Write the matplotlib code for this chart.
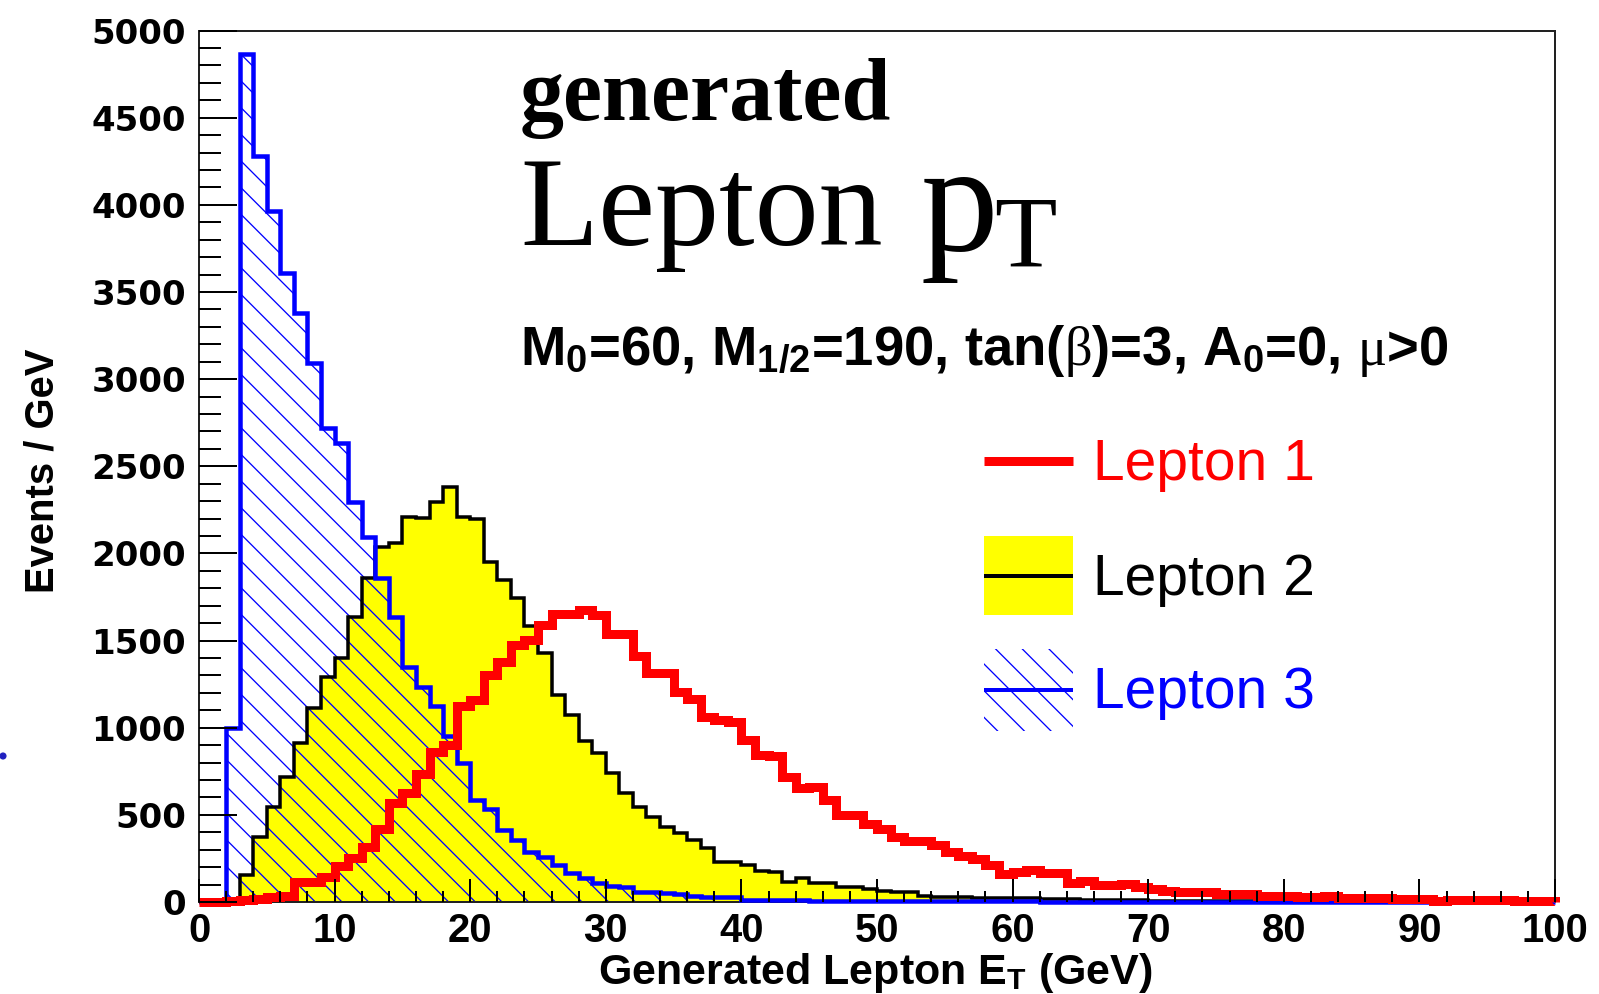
import numpy as np
import matplotlib
matplotlib.use("Agg")
import matplotlib.pyplot as plt
from matplotlib.patches import Rectangle, Ellipse
from matplotlib.lines import Line2D

# 1 GeV bins from 0 to 100 GeV
edges = np.arange(0, 101, 1)

# Events / GeV for the three leptons (ordered by E_T)
lepton1 = [0, 0, 3, 10, 18, 30, 35, 115, 112, 145,
           205, 250, 318, 417, 570, 625, 733, 860, 900, 1126,
           1160, 1302, 1378, 1475, 1505, 1590, 1650, 1652, 1675, 1645,
           1540, 1540, 1413, 1315, 1315, 1205, 1165, 1063, 1045, 1030,
           930, 843, 835, 715, 655, 660, 585, 500, 500, 450,
           420, 372, 350, 350, 325, 285, 265, 245, 212, 160,
           175, 182, 168, 168, 110, 122, 100, 100, 103, 85,
           72, 62, 59, 55, 55, 48, 48, 48, 36, 36,
           36, 27, 27, 34, 23, 23, 23, 23, 15, 15,
           15, 8, 10, 10, 10, 10, 10, 5, 5, 5]

lepton2 = [0, 0, 0, 155, 375, 547, 719, 911, 1112, 1293,
           1399, 1637, 1857, 2038, 2058, 2211, 2205, 2297, 2380, 2211,
           2200, 1950, 1847, 1742, 1585, 1427, 1188, 1073, 925, 853,
           738, 624, 547, 489, 432, 394, 356, 308, 231, 231,
           215, 180, 170, 117, 140, 107, 107, 88, 85, 75,
           65, 60, 55, 35, 31, 30, 30, 25, 25, 25,
           25, 22, 20, 20, 18, 12, 12, 10, 10, 10,
           8, 8, 7, 6, 6, 5, 4, 4, 4, 3,
           3, 3, 3, 3, 2, 2, 2, 2, 2, 2,
           1, 1, 1, 1, 1, 1, 1, 0, 0, 0]

lepton3 = [0, 0, 1000, 4865, 4280, 3964, 3612, 3377, 3090, 2718,
           2632, 2297, 2093, 1857, 1637, 1350, 1235, 1125, 955, 800,
           585, 535, 413, 356, 289, 260, 212, 165, 136, 107,
           90, 86, 60, 58, 50, 48, 32, 30, 30, 28,
           14, 12, 12, 10, 10, 8, 8, 7, 7, 6,
           5, 5, 5, 4, 4, 4, 4, 3, 3, 3,
           3, 3, 2, 2, 2, 2, 2, 2, 1, 1,
           1, 1, 1, 1, 1, 1, 0, 0, 0, 0,
           0, 0, 0, 0, 0, 0, 0, 0, 0, 0,
           0, 0, 0, 0, 0, 0, 0, 0, 0, 0]

legend_labels = ["Lepton 1", "Lepton 2", "Lepton 3"]
legend_colors = ["#ff0000", "#000000", "#0000ff"]

W, H, DPI = 1599, 994, 80


def pt(px):
    # pixel size -> points at the figure dpi
    return px * 72 / DPI


def fxy(x, y):
    # pixel position from top-left -> figure fraction
    return x / W, 1 - y / H


plt.rcParams["font.family"] = "Liberation Sans"
plt.rcParams["font.weight"] = "bold"
plt.rcParams["axes.labelweight"] = "bold"
plt.rcParams["mathtext.fontset"] = "custom"
plt.rcParams["mathtext.rm"] = "Liberation Sans:bold"
plt.rcParams["mathtext.it"] = "Liberation Serif:regular"
plt.rcParams["hatch.color"] = "#0000ff"
plt.rcParams["hatch.linewidth"] = pt(1.3)

fig = plt.figure(figsize=(W / DPI, H / DPI), dpi=DPI)
fig.set_facecolor("white")
ax = fig.add_axes([199 / W, 1 - 902 / H, (1555 - 199) / W, (902 - 30.6) / H])

# histograms
ax.stairs(lepton2, edges, fill=True, facecolor="#ffff00", lw=0, zorder=1)
ax.stairs(lepton3, edges, fill=True, facecolor="none", edgecolor="#0000ff",
          hatch="\\", lw=0, zorder=2)
ax.stairs(lepton2, edges, color="black", lw=pt(3.5), zorder=3, clip_on=False)
ax.stairs(lepton3, edges, color="#0000ff", lw=pt(4.5), zorder=4, clip_on=False)
ax.stairs(lepton1, edges, color="#ff0000", lw=pt(9), zorder=5, clip_on=False)

ax.set_xlim(0, 100)
ax.set_ylim(0, 5000)
ax.set_xticks(np.arange(0, 101, 10))
ax.set_xticks(np.arange(0, 101, 2), minor=True)
ax.set_yticks(np.arange(0, 5001, 500))
ax.set_yticks(np.arange(0, 5001, 100), minor=True)
ax.tick_params(axis="x", which="major", direction="in", length=pt(23), width=pt(2),
               labelsize=pt(40), pad=pt(10))
ax.tick_params(axis="x", which="minor", direction="in", length=pt(11), width=pt(2))
ax.tick_params(axis="y", which="major", direction="in", length=pt(38), width=pt(2),
               labelsize=pt(34), labelfontfamily="DejaVu Sans", pad=pt(13))
ax.tick_params(axis="y", which="minor", direction="in", length=pt(22), width=pt(2))
ax.xaxis.set_zorder(6)
ax.yaxis.set_zorder(6)
for s in ax.spines.values():
    s.set_linewidth(pt(2))
    s.set_color("#222222")

ax.set_ylabel("Events / GeV", size=pt(40))
ax.yaxis.label.set(va="center", ha="center", rotation_mode="default")
ax.yaxis.set_label_coords((43 - 199) / 1356, (902 - 471) / 871.4)
ax.set_xlabel(r"Generated Lepton E$_\mathrm{T}$ (GeV)", size=pt(43))
ax.xaxis.label.set_va("baseline")
ax.xaxis.set_label_coords((875 - 199) / 1356, (902 - 984) / 871.4)

# title block
renderer = fig.canvas.get_renderer()
fig.text(*fxy(520, 120), "generated", family="Liberation Serif", weight="bold",
         size=pt(88), va="baseline", ha="left")
lep = fig.text(*fxy(520, 245), "Lepton", family="Liberation Serif", weight="normal",
               size=pt(128), va="baseline", ha="left")
bb = lep.get_window_extent(renderer)
p = fig.text((bb.x1 + 38) / W, 1 - 250 / H, "p", family="Liberation Serif",
             weight="normal", size=pt(155), va="baseline", ha="left")
bb = p.get_window_extent(renderer)
fig.text((bb.x1 - 4) / W, 1 - 267 / H, "T", family="Liberation Serif", weight="normal",
         size=pt(102), va="baseline", ha="left")
fig.text(*fxy(520, 365), r"M$_0$=60, M$_{1/2}$=190, tan($\beta$)=3, A$_0$=0, $\mu$>0",
         size=pt(54.5), va="baseline", ha="left")

# legend
key_x0, key_x1 = 984, 1073
key_y = [461, 576, 690]
text_y = [480, 595, 708]
fig.add_artist(Rectangle(fxy(key_x0, 615), (key_x1 - key_x0) / W, 79 / H,
                         facecolor="#ffff00", lw=0, transform=fig.transFigure))
fig.add_artist(Rectangle(fxy(key_x0, 731), (key_x1 - key_x0) / W, 82 / H,
                         facecolor="none", edgecolor="#0000ff", hatch="\\", lw=0,
                         transform=fig.transFigure))
key_lw = [9, 4, 4]
for lab, col, ky, ty, lw in zip(legend_labels, legend_colors, key_y, text_y, key_lw):
    fig.add_artist(Line2D([key_x0 / W, key_x1 / W], [1 - ky / H, 1 - ky / H], color=col,
                          lw=pt(lw), solid_capstyle="butt", transform=fig.transFigure))
    fig.text(*fxy(1093, ty), lab, color=col, weight="normal", size=pt(57),
             va="baseline", ha="left")

fig.add_artist(Ellipse(fxy(3, 756), 6 / W, 6 / H, color="#2020c0",
                       transform=fig.transFigure))

fig.savefig("out.png", dpi=DPI)
